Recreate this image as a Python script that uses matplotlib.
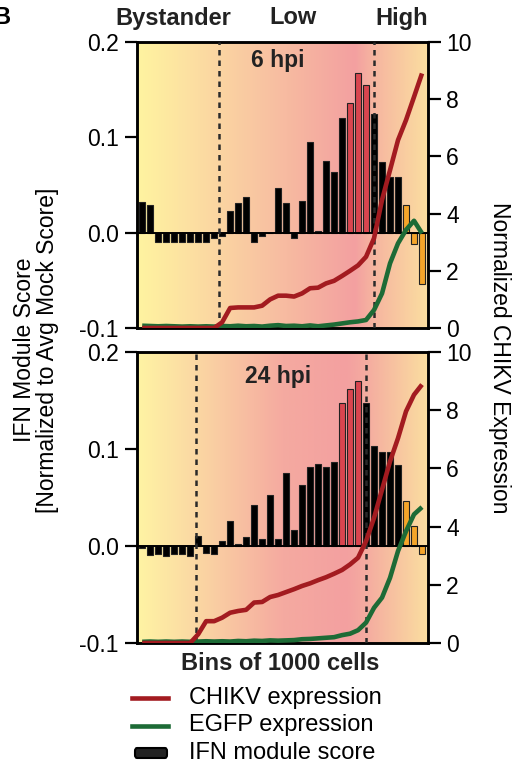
import numpy as np
import matplotlib
matplotlib.use('Agg')
import matplotlib.pyplot as plt
from matplotlib.colors import LinearSegmentedColormap
from matplotlib.lines import Line2D
from matplotlib.patches import FancyBboxPatch

plt.rcParams['font.family'] = ['Liberation Sans', 'DejaVu Sans']
plt.rcParams['axes.unicode_minus'] = False

# IFN module score per bin (36 bins of 1000 cells)
ifn_6h = [0.032, 0.029, -0.010, -0.010, -0.010, -0.010, -0.010, -0.010, -0.010, -0.006,
          -0.003, 0.023, 0.031, 0.037, -0.010, -0.003, 0.0, 0.047, 0.031, -0.006,
          0.033, 0.095, 0.002, 0.075, 0.064, 0.120, 0.136, 0.167, 0.155, 0.125,
          0.074, 0.058, 0.058, 0.029, -0.012, -0.054]
ifn_24h = [-0.002, -0.009, -0.008, -0.010, -0.008, -0.008, -0.010, 0.010, -0.007, -0.008,
           0.005, 0.026, 0.002, 0.009, 0.042, 0.007, 0.053, 0.007, 0.075, 0.016,
           0.063, 0.081, 0.085, 0.081, 0.087, 0.147, 0.162, 0.170, 0.147, 0.103,
           0.097, 0.097, 0.084, 0.046, 0.021, -0.008]

# normalized expression per bin
chikv_6h = [0, 0, 0, 0, 0, 0, 0, 0, 0, 0,
            0.2, 0.7, 0.72, 0.72, 0.72, 0.78, 1.0, 1.13, 1.13, 1.1,
            1.21, 1.39, 1.41, 1.56, 1.65, 1.82, 2.0, 2.19, 2.49, 3.14,
            4.48, 5.52, 6.57, 7.27, 8.08, 8.9]
egfp_6h = [0.08, 0.07, 0.06, 0.07, 0.06, 0.05, 0.06, 0.05, 0.06, 0.05,
           0.07, 0.06, 0.08, 0.06, 0.07, 0.05, 0.08, 0.1, 0.07, 0.08,
           0.06, 0.09, 0.06, 0.09, 0.12, 0.16, 0.2, 0.23, 0.28, 0.63,
           1.21, 2.26, 2.96, 3.43, 3.75, 3.31]
chikv_24h = [0, 0, 0, 0, 0, 0, 0, 0.3, 0.75, 0.75,
             0.87, 1.04, 1.1, 1.14, 1.39, 1.41, 1.58, 1.65, 1.75, 1.85,
             1.96, 2.05, 2.16, 2.26, 2.38, 2.51, 2.7, 2.93, 3.5, 4.3,
             5.27, 6.24, 7.04, 7.96, 8.53, 8.88]
egfp_24h = [0.04, 0.05, 0.04, 0.05, 0.04, 0.05, 0.04, 0.05, 0.06, 0.05,
            0.06, 0.05, 0.07, 0.06, 0.08, 0.07, 0.09, 0.08, 0.09, 0.1,
            0.13, 0.14, 0.16, 0.18, 0.2, 0.27, 0.32, 0.44, 0.7, 1.21,
            1.56, 2.24, 3.16, 3.84, 4.42, 4.67]

# gate boundaries (bin position) and highlighted bins
gates_6h = [9.6, 29.0]
gates_24h = [6.7, 28.0]
pink_6h = [26, 27, 28]
pink_24h = [25, 26, 27]
orange_bins = [33, 34, 35]

panels = [
    ('6 hpi', ifn_6h, chikv_6h, egfp_6h, gates_6h, pink_6h,
     [(0, '#fff4a0'), (0.28, '#fbd5a2'), (0.75, '#f3a0a0'), (0.81, '#f6b4a0'), (1, '#fbdea0')]),
    ('24 hpi', ifn_24h, chikv_24h, egfp_24h, gates_24h, pink_24h,
     [(0, '#fff4a4'), (0.2, '#fbd8a3'), (0.5, '#f5aaa0'), (0.72, '#f3a0a0'), (0.8, '#f5aea0'), (1, '#fbdea0')]),
]

RED = '#a31b20'
GREEN = '#1d6b36'
FS = 16.5

fig = plt.figure(figsize=(5.22, 7.69), dpi=100)
W, H = 522, 769
axes_pos = [(137, 42, 428, 328), (137, 352, 428, 643)]
title_pos = [(278, 61), (278, 377)]

x = np.arange(36)
xlim = (-0.65, 35.75)

for (title, ifn, chikv, egfp, gates, pink, stops), (l, t, r, b), (tx, ty) in zip(panels, axes_pos, title_pos):
    ax = fig.add_axes([l / W, 1 - b / H, (r - l) / W, (b - t) / H])
    cmap = LinearSegmentedColormap.from_list('bg', stops)
    grad = np.linspace(0, 1, 256).reshape(1, -1)
    ax.imshow(grad, cmap=cmap, aspect='auto', extent=(xlim[0], xlim[1], -0.1, 0.2),
              zorder=0, interpolation='bicubic')

    colors = []
    for i in x:
        if i in pink:
            colors.append('#d9454f')
        elif i in orange_bins:
            colors.append('#f5a52a')
        else:
            colors.append('black')
    ax.bar(x, ifn, width=0.68, color=colors, edgecolor='#222222', linewidth=0.8, zorder=2)
    ax.axhline(0, color='black', lw=1.4, zorder=3)

    ax.set_xlim(xlim)
    ax.set_ylim(-0.1, 0.2)
    ax.set_yticks([-0.1, 0.0, 0.1, 0.2])
    ax.set_yticklabels(['-0.1', '0.0', '0.1', '0.2'])
    ax.set_xticks([])
    for s in ax.spines.values():
        s.set_linewidth(1.8)
    ax.tick_params(axis='y', direction='out', length=9, width=1.6, labelsize=FS, pad=4)

    ax2 = ax.twinx()
    ax2.plot(x, egfp, color=GREEN, lw=3.3, solid_capstyle='butt', zorder=4)
    ax2.plot(x, chikv, color=RED, lw=3.3, solid_capstyle='butt', zorder=5)
    for g in gates:
        ax2.axvline(g, color='#2a2a2a', lw=1.8, ls=(0, (2.2, 2.0)), zorder=3)
    ax2.set_ylim(0, 10)
    ax2.set_yticks([0, 2, 4, 6, 8, 10])
    ax2.set_xlim(xlim)
    for s in ax2.spines.values():
        s.set_linewidth(1.8)
    ax2.tick_params(axis='y', direction='out', length=9, width=1.6, labelsize=FS, pad=4)

    fig.text(tx / W, 1 - ty / H, title, ha='center', va='center',
             fontsize=FS, fontweight='bold', color='#222222')

# group labels above
for label, px in [('Bystander', 173), ('Low', 293), ('High', 402)]:
    fig.text(px / W, 1 - 18 / H, label, ha='center', va='center', fontsize=FS + 0.5,
             fontweight='bold', color='#222222')
fig.text(-7 / W, 1 - 18 / H, 'B', ha='left', va='center', fontsize=FS + 0.5, fontweight='bold')

fig.text(36 / W, 1 - 350 / H, 'IFN Module Score\n[Normalized to Avg Mock Score]',
         rotation=90, ha='center', va='center', fontsize=FS, linespacing=1.05)
fig.text(499 / W, 1 - 358 / H, 'Normalized CHIKV Expression', rotation=270,
         ha='center', va='center', fontsize=FS)
fig.text(280 / W, 1 - 663 / H, 'Bins of 1000 cells', ha='center', va='center',
         fontsize=FS + 0.5, fontweight='bold', color='#222222')

# legend
legend_rows = [('CHIKV expression', RED), ('EGFP expression', GREEN), ('IFN module score', None)]
for k, (label, col) in enumerate(legend_rows):
    yy = 1 - (698 + 27.5 * k) / H
    if col is not None:
        fig.add_artist(Line2D([132 / W, 168 / W], [yy, yy], color=col, lw=3.3,
                              transform=fig.transFigure))
    else:
        fig.add_artist(FancyBboxPatch((135 / W, yy - 5 / H), 32 / W, 10 / H,
                                      boxstyle='round,pad=0,rounding_size=0.004',
                                      facecolor='#222222', edgecolor='black', lw=1.5,
                                      transform=fig.transFigure))
    fig.text(189 / W, yy, label, ha='left', va='center', fontsize=FS + 0.5)

fig.savefig('out.png', dpi=100)
